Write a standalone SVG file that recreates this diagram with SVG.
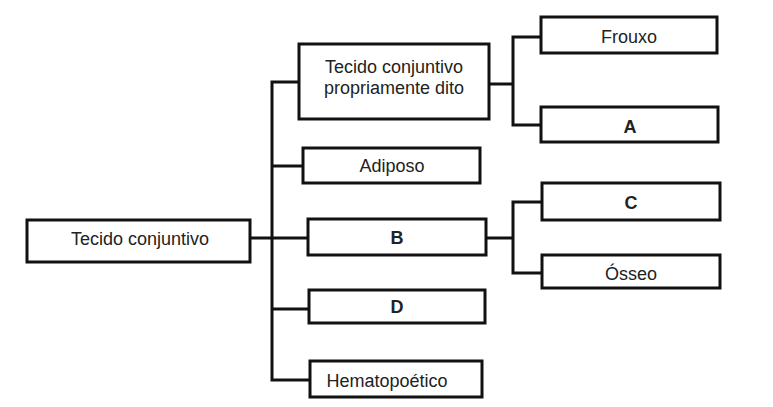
<svg xmlns="http://www.w3.org/2000/svg" width="773" height="407" viewBox="0 0 773 407">
<style>
.box{fill:#fff;stroke:#111;stroke-width:3}
.t{font-family:"Liberation Sans",Arial,sans-serif;font-size:18px;fill:#222;text-anchor:middle}
.b{font-weight:bold}
.ln{fill:none;stroke:#111;stroke-width:3}
</style>
<rect width="773" height="407" fill="#fff"/>
<g id="connectors">
<path class="ln" d="M250 238H308"/>
<path class="ln" d="M299 82H272V380H310"/>
<path class="ln" d="M272 166H303"/>
<path class="ln" d="M272 309H309"/>
<path class="ln" d="M489 84H513"/>
<path class="ln" d="M541 37H513V125H541"/>
<path class="ln" d="M486 238H513"/>
<path class="ln" d="M542 202H513V273H542"/>
</g>
<g id="root"><rect class="box" x="27" y="220" width="223" height="42"/><text class="t" x="140" y="245">Tecido conjuntivo</text></g>
<g id="tcpd"><rect class="box" x="299" y="44" width="190" height="75"/><text class="t" x="394" y="73">Tecido conjuntivo</text><text class="t" x="394" y="94">propriamente dito</text></g>
<g id="frouxo"><rect class="box" x="541" y="17" width="176" height="36"/><text class="t" x="629" y="43">Frouxo</text></g>
<g id="a"><rect class="box" x="541" y="107" width="177" height="35"/><text class="t b" x="630" y="133">A</text></g>
<g id="adiposo"><rect class="box" x="303" y="148" width="177" height="35"/><text class="t" x="392" y="172">Adiposo</text></g>
<g id="b"><rect class="box" x="308" y="219" width="178" height="36"/><text class="t b" x="397" y="244">B</text></g>
<g id="c"><rect class="box" x="542" y="183" width="178" height="37"/><text class="t b" x="631" y="209">C</text></g>
<g id="osseo"><rect class="box" x="542" y="255" width="178" height="33"/><text class="t" x="631" y="280">Ósseo</text></g>
<g id="d"><rect class="box" x="309" y="290" width="176" height="33"/><text class="t b" x="397" y="313">D</text></g>
<g id="hemato"><rect class="box" x="310" y="361" width="172" height="36"/><text class="t" x="387" y="387">Hematopoético</text></g>
</svg>
